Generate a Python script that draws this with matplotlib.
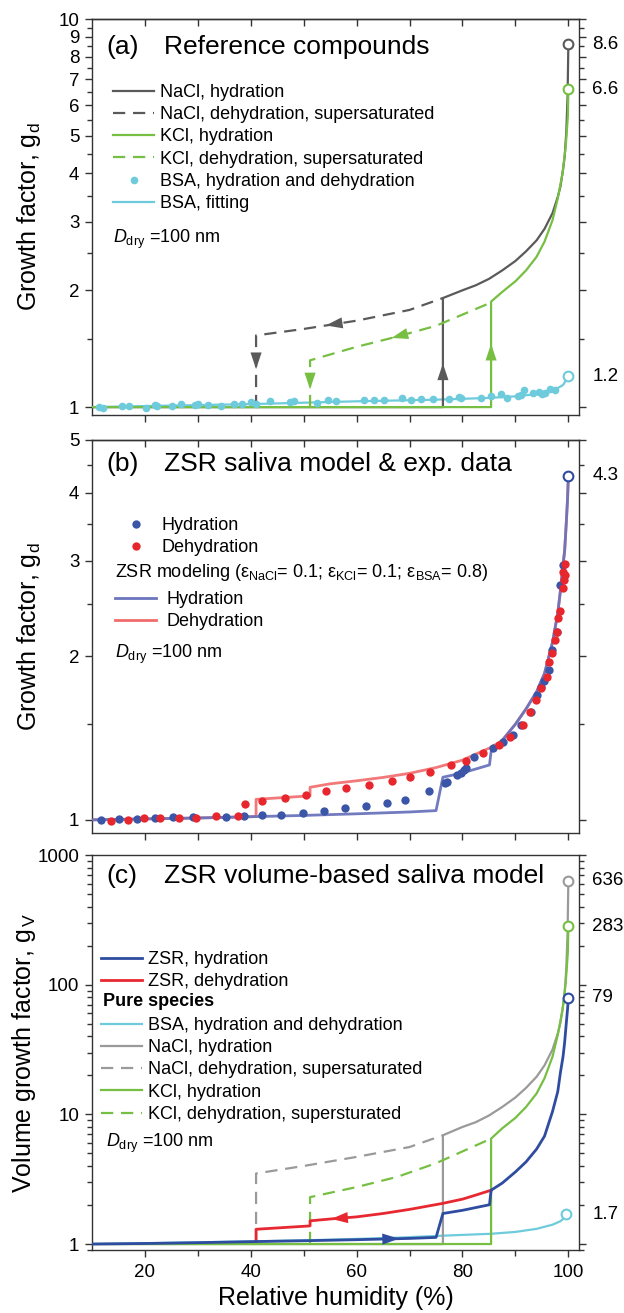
import numpy as np
import matplotlib.pyplot as plt
from matplotlib.lines import Line2D
from matplotlib.ticker import NullFormatter, LogLocator

plt.rcParams['font.family'] = ['Liberation Sans', 'DejaVu Sans']
plt.rcParams['mathtext.fontset'] = 'custom'
plt.rcParams['mathtext.rm'] = 'Liberation Sans'
plt.rcParams['mathtext.it'] = 'Liberation Sans:italic'
plt.rcParams['mathtext.bf'] = 'Liberation Sans:bold'
plt.rcParams['axes.linewidth'] = 1.0
plt.rcParams['axes.edgecolor'] = '#333333'

# ---------------- (a) reference compounds, diameter growth factor ----------------
rh_nacl_hyd = [10, 76.3, 76.3, 80, 82.5, 85, 87.5, 90, 92, 94, 95.5, 97, 98, 98.5, 99, 99.3, 99.6, 99.85, 100]
gd_nacl_hyd = [1.0, 1.0, 1.91, 2.00, 2.06, 2.14, 2.25, 2.38, 2.52, 2.69, 2.88, 3.16, 3.48, 3.70, 4.10, 4.42, 5.08, 6.3, 8.6]
rh_nacl_deh = [41.0, 41.0, 50, 60, 70, 76.3]
gd_nacl_deh = [1.0, 1.53, 1.59, 1.67, 1.78, 1.91]

rh_kcl_hyd = [10, 85.4, 85.4, 87.5, 90, 92, 94, 95.5, 97, 98, 98.9, 99.5, 99.9, 100]
gd_kcl_hyd = [1.0, 1.0, 1.87, 1.98, 2.11, 2.25, 2.44, 2.67, 3.03, 3.45, 4.0, 4.7, 5.6, 6.6]
rh_kcl_deh = [51.2, 51.2, 60, 67.7, 75, 85.4]
gd_kcl_deh = [1.0, 1.32, 1.43, 1.52, 1.62, 1.86]

rh_bsa_pts = [11.4, 12.1, 15.7, 17.0, 20.2, 21.9, 22.3, 25.1, 26.8, 29.4, 30.1, 32.0, 34.3,
              36.9, 38.4, 40.1, 41.0, 43.7, 47.4, 48.2, 52.5, 54.6, 56.1, 61.3, 63.2, 65.1,
              68.5, 70.3, 72.2, 74.5, 77.5, 79.4, 79.7, 83.5, 85.4, 87.2, 88.4, 90.5, 91.0,
              91.7, 93.3, 94.4, 95.0, 95.5, 96.6, 97.4]
gd_bsa_pts = [1.000, 0.996, 1.004, 1.006, 0.992, 1.012, 1.008, 1.004, 1.016, 1.012, 1.020, 1.014, 1.004,
              1.016, 1.020, 1.030, 1.020, 1.036, 1.030, 1.034, 1.026, 1.045, 1.036, 1.040, 1.045, 1.040,
              1.053, 1.045, 1.049, 1.049, 1.051, 1.061, 1.053, 1.057, 1.065, 1.082, 1.057, 1.065, 1.072,
              1.104, 1.087, 1.093, 1.082, 1.087, 1.115, 1.104]
rh_bsa_fit = [10, 20, 40, 60, 75, 85, 90, 94, 97, 99, 100]
gd_bsa_fit = [1.0, 1.006, 1.018, 1.035, 1.045, 1.056, 1.066, 1.080, 1.10, 1.14, 1.2]

# ---------------- (b) ZSR model and measured saliva ----------------
rh_zsr_hyd = [10, 20, 30, 41, 50, 60, 70, 75.0, 76.3, 80, 85.1, 85.4, 87.5, 90, 92, 94, 95.5,
              97, 98, 98.5, 99, 99.3, 99.6, 99.85, 100]
gd_zsr_hyd = [1.0, 1.004, 1.008, 1.014, 1.019, 1.026, 1.034, 1.040, 1.198, 1.22, 1.262, 1.335, 1.40,
              1.50, 1.60, 1.72, 1.86, 2.12, 2.40, 2.64, 2.95, 3.13, 3.51, 3.9, 4.3]
rh_zsr_deh = [10, 20, 30, 41.0, 41.0, 51.2, 51.2, 55, 60, 65, 70, 75, 80, 85.4, 87.5, 90, 92, 94,
              95.5, 97, 98, 98.5, 99, 99.3, 99.6, 99.85, 100]
gd_zsr_deh = [1.0, 1.004, 1.008, 1.014, 1.091, 1.107, 1.148, 1.165, 1.18, 1.197, 1.218, 1.248, 1.288,
              1.36, 1.40, 1.50, 1.60, 1.72, 1.86, 2.12, 2.40, 2.64, 2.95, 3.13, 3.51, 3.9, 4.3]

rh_exp_hyd = [11.7, 15.1, 18.5, 21.9, 25.4, 29.0, 35.3, 38.8, 42.2, 45.8, 49.8, 53.8, 57.8, 61.8,
              65.8, 69.2, 73.7, 76.7, 77.1, 79.0, 79.7, 80.3, 80.6, 82.1, 85.7, 87.6, 89.5, 91.0,
              92.9, 94.0, 94.8, 95.4, 96.3, 97.0, 97.8, 98.5, 98.9]
gd_exp_hyd = [1.000, 1.003, 1.004, 1.010, 1.014, 1.014, 1.014, 1.017, 1.021, 1.021, 1.031, 1.039,
              1.051, 1.061, 1.073, 1.088, 1.131, 1.168, 1.176, 1.210, 1.218, 1.236, 1.245, 1.307,
              1.354, 1.393, 1.433, 1.495, 1.582, 1.697, 1.758, 1.803, 1.887, 2.055, 2.22, 2.70, 2.94]
rh_exp_deh = [13.5, 16.8, 19.8, 22.9, 26.4, 29.6, 33.5, 37.5, 38.9, 42.2, 46.5, 50.4, 54.2, 57.9,
              62.3, 66.6, 70.1, 73.9, 77.9, 80.6, 83.9, 86.9, 89.0, 91.4, 92.7, 93.9, 94.9, 95.9,
              96.3, 97.0, 97.4, 97.8, 98.1, 98.5, 98.9, 99.1, 99.3, 99.4, 98.9]
gd_exp_deh = [0.997, 1.000, 1.007, 1.010, 1.010, 1.010, 1.017, 1.017, 1.069, 1.084, 1.096, 1.112,
              1.131, 1.144, 1.160, 1.181, 1.198, 1.223, 1.262, 1.285, 1.326, 1.374, 1.423, 1.495,
              1.582, 1.662, 1.746, 1.835, 1.95, 2.03, 2.14, 2.22, 2.35, 2.42, 2.67, 2.76, 2.82,
              2.96, 2.86]

# ---------------- (c) volume growth factor ----------------
rh_nacl_hyd_v = [10, 76.3, 76.3, 80, 82.5, 85, 87.5, 90, 92, 94, 95.5, 97, 98, 98.5, 99, 99.3, 99.6, 99.85, 100]
gv_nacl_hyd = [1.0, 1.0, 6.9, 8.0, 8.7, 9.8, 11.4, 13.5, 16.0, 19.5, 23.9, 31.6, 42, 50.7, 69, 86, 131, 250, 636]
rh_nacl_deh_v = [41.0, 41.0, 50, 60, 70, 76.3]
gv_nacl_deh = [1.0, 3.5, 4.0, 4.7, 5.6, 6.9]

rh_kcl_hyd_v = [10, 85.4, 85.4, 87.5, 90, 92, 94, 95.5, 97, 98, 98.9, 99.5, 99.9, 100]
gv_kcl_hyd = [1.0, 1.0, 6.5, 7.8, 9.4, 11.4, 14.5, 19.0, 27.8, 41, 64, 104, 176, 283]
rh_kcl_deh_v = [51.2, 51.2, 60, 67.7, 75, 85.4]
gv_kcl_deh = [1.0, 2.3, 2.75, 3.3, 4.2, 6.5]

rh_bsa_v = [10, 30, 41, 55, 67.7, 76.3, 85.4, 90, 94, 97, 98.5, 99.3, 99.6]
gv_bsa = [1.0, 1.03, 1.05, 1.08, 1.12, 1.16, 1.20, 1.24, 1.31, 1.41, 1.50, 1.60, 1.7]

rh_zsr_hyd_v = [10, 20, 30, 41, 50, 60, 70, 75.0, 76.3, 80, 85.1, 85.4, 87.5, 90, 92, 94, 95.5,
                97, 98, 98.5, 99, 99.3, 99.6, 99.85, 100]
gv_zsr_hyd = [1.0, 1.01, 1.025, 1.045, 1.06, 1.08, 1.105, 1.125, 1.72, 1.82, 2.01, 2.6, 2.95, 3.6,
              4.3, 5.4, 6.8, 10.5, 15, 21, 28, 36, 50, 65, 79]
rh_zsr_deh_v = [41.0, 41.0, 51.2, 51.2, 55, 60, 65, 70, 76.3, 80, 82, 85.4]
gv_zsr_deh = [1.045, 1.30, 1.38, 1.51, 1.56, 1.62, 1.72, 1.85, 2.06, 2.22, 2.35, 2.6]

c_nacl = '#5a5a5a'
c_nacl_v = '#9a9a9a'
c_kcl = '#76bf43'
c_bsa = '#6ecbdc'
c_zsr_hyd = '#6b74bd'
c_zsr_deh = '#f06b6b'
c_exp_hyd = '#3b55a7'
c_exp_deh = '#e8262d'
c_hyd_v = '#2e4ca0'
c_deh_v = '#e82830'

dash = (0, (5.5, 3.5))
lw = 1.6
fs = 13
fs_tick = 13.5
leg_kw = dict(loc='upper left', frameon=False, fontsize=fs, handlelength=2.3,
              labelspacing=0.29, borderpad=0, borderaxespad=0)


def arrow(ax, x0, y0, x1, y1, color):
    ax.annotate('', xy=(x1, y1), xytext=(x0, y0),
                arrowprops=dict(arrowstyle='-|>,head_length=0.6,head_width=0.2',
                                color=color, lw=0, shrinkA=0, shrinkB=0, mutation_scale=20),
                zorder=7)


def along(x, y, x_tail, x_tip, color, ax):
    # arrow head sitting on a curve, direction from x_tail to x_tip
    arrow(ax, x_tail, np.interp(x_tail, x, y), x_tip, np.interp(x_tip, x, y), color)


def on_jump(ax, x, lo, hi, f_tail, f_tip, color):
    # arrow head on a vertical jump, placed at log-fractions of the jump
    arrow(ax, x, lo * (hi / lo) ** f_tail, x, lo * (hi / lo) ** f_tip, color)


def end_label(ax, y, s):
    ax.annotate(s, xy=(1, y), xycoords=('axes fraction', 'data'), xytext=(9.5, 0),
                textcoords='offset points', va='center', ha='left', fontsize=fs_tick)


def end_circle(ax, x, y, color):
    ax.plot(x, y, 'o', ms=7, mfc='white', mec=color, mew=1.5, zorder=8, clip_on=False)


def frame(ax, top_ticks=True):
    ax.set_xlim(10, 102)
    ax.set_yscale('log')
    ax.tick_params(axis='y', which='both', direction='out', left=True, right=True,
                   labelright=False, labelsize=fs_tick, pad=4, color='#333333')
    ax.tick_params(axis='y', which='major', length=5, width=1)
    ax.tick_params(axis='y', which='minor', length=3.5, width=1)
    ax.tick_params(axis='x', which='both', direction='out', length=5, width=1,
                   labelsize=fs_tick, pad=5, color='#333333')
    if top_ticks:
        sec = ax.secondary_xaxis('top')
        sec.set_xticks(np.arange(20, 101, 10))
        sec.set_xticklabels([])
        sec.tick_params(direction='in', length=5, width=1, color='#333333')


fig = plt.figure(figsize=(6.24, 13.13), dpi=100)
left, width = 0.1474, 0.7804
ax_a = fig.add_axes([left, 0.6839, width, 0.3016])
ax_b = fig.add_axes([left, 0.3656, width, 0.2993])
ax_c = fig.add_axes([left, 0.0480, width, 0.3008])

# ---------- panel (a) ----------
ax = ax_a
frame(ax)
ax.plot(rh_bsa_fit, gd_bsa_fit, color=c_bsa, lw=lw, zorder=2)
ax.plot(rh_nacl_hyd, gd_nacl_hyd, color=c_nacl, lw=lw, zorder=3)
ax.plot(rh_nacl_deh, gd_nacl_deh, color=c_nacl, lw=lw, ls=dash, zorder=3)
ax.plot(rh_kcl_hyd, gd_kcl_hyd, color=c_kcl, lw=lw, zorder=3)
ax.plot(rh_kcl_deh, gd_kcl_deh, color=c_kcl, lw=lw, ls=dash, zorder=3)
ax.plot(rh_bsa_pts, gd_bsa_pts, 'o', color=c_bsa, ms=5.5, mew=0, zorder=4)
end_circle(ax, rh_nacl_hyd[-1], gd_nacl_hyd[-1], c_nacl)
end_circle(ax, rh_kcl_hyd[-1], gd_kcl_hyd[-1], c_kcl)
end_circle(ax, rh_bsa_fit[-1], gd_bsa_fit[-1], c_bsa)
end_label(ax, gd_nacl_hyd[-1], '8.6')
end_label(ax, gd_kcl_hyd[-1], '6.6')
end_label(ax, gd_bsa_fit[-1], '1.2')

on_jump(ax, rh_nacl_hyd[1], gd_nacl_hyd[1], gd_nacl_hyd[2], 0.22, 0.40, c_nacl)
on_jump(ax, rh_kcl_hyd[1], gd_kcl_hyd[1], gd_kcl_hyd[2], 0.42, 0.60, c_kcl)
on_jump(ax, rh_nacl_deh[0], gd_nacl_deh[0], gd_nacl_deh[1], 0.78, 0.53, c_nacl)
on_jump(ax, rh_kcl_deh[0], gd_kcl_deh[0], gd_kcl_deh[1], 0.80, 0.38, c_kcl)
along(rh_nacl_deh[1:], gd_nacl_deh[1:], 58.0, 54.2, c_nacl, ax)
along(rh_kcl_deh[1:], gd_kcl_deh[1:], 70.5, 66.6, c_kcl, ax)

ax.set_ylim(0.954, 10)
ax.set_yticks(np.arange(1, 11))
ax.set_yticklabels([str(v) for v in range(1, 11)])
ax.set_yticks(np.arange(1.5, 10, 1.0), minor=True)
ax.yaxis.set_minor_formatter(NullFormatter())
ax.set_xticks(np.arange(20, 101, 10))
ax.set_xticklabels([])
ax.set_ylabel('Growth factor, g$_\\mathrm{d}$', fontsize=18)
ax.yaxis.set_label_coords(-0.10, 0.5)

ax.text(0.029, 0.929, '(a)', transform=ax.transAxes, fontsize=19, va='center')
ax.text(0.148, 0.929, 'Reference compounds', transform=ax.transAxes, fontsize=19, va='center')

h_a = [Line2D([], [], color=c_nacl, lw=lw),
       Line2D([], [], color=c_nacl, lw=lw, ls=dash),
       Line2D([], [], color=c_kcl, lw=lw),
       Line2D([], [], color=c_kcl, lw=lw, ls=dash),
       Line2D([], [], color=c_bsa, marker='o', ls='none', ms=5.5, mew=0),
       Line2D([], [], color=c_bsa, lw=lw)]
l_a = ['NaCl, hydration', 'NaCl, dehydration, supersaturated', 'KCl, hydration',
       'KCl, dehydration, supersaturated', 'BSA, hydration and dehydration', 'BSA, fitting']
ax.legend(h_a, l_a, bbox_to_anchor=(0.043, 0.836), handletextpad=0.3, **leg_kw)
ax.text(0.043, 0.434, '$\\mathit{D}_{\\mathrm{dry}}$ =100 nm', transform=ax.transAxes,
        fontsize=fs, va='baseline')

# ---------- panel (b) ----------
ax = ax_b
frame(ax)
ax.plot(rh_zsr_deh, gd_zsr_deh, color=c_zsr_deh, lw=2.0, alpha=0.9, zorder=2)
ax.plot(rh_zsr_hyd, gd_zsr_hyd, color=c_zsr_hyd, lw=2.0, alpha=0.95, zorder=3)
ax.plot(rh_exp_hyd, gd_exp_hyd, 'o', color=c_exp_hyd, ms=6, mew=0, zorder=4)
ax.plot(rh_exp_deh, gd_exp_deh, 'o', color=c_exp_deh, ms=6, mew=0, zorder=5)
end_circle(ax, rh_zsr_hyd[-1], gd_zsr_hyd[-1], c_hyd_v)
end_label(ax, gd_zsr_hyd[-1], '4.3')

ax.set_ylim(0.946, 5)
ax.set_yticks([1, 2, 3, 4, 5])
ax.set_yticklabels(['1', '2', '3', '4', '5'])
ax.set_yticks([1.5, 2.5, 3.5, 4.5], minor=True)
ax.yaxis.set_minor_formatter(NullFormatter())
ax.set_xticks(np.arange(20, 101, 10))
ax.set_xticklabels([])
ax.set_ylabel('Growth factor, g$_\\mathrm{d}$', fontsize=18)
ax.yaxis.set_label_coords(-0.10, 0.5)

ax.text(0.029, 0.939, '(b)', transform=ax.transAxes, fontsize=19, va='center')
ax.text(0.148, 0.939, 'ZSR saliva model & exp. data', transform=ax.transAxes, fontsize=19, va='center')

h_b1 = [Line2D([], [], color=c_exp_hyd, marker='o', ls='none', ms=6, mew=0),
        Line2D([], [], color=c_exp_deh, marker='o', ls='none', ms=6, mew=0)]
leg_b = ax.legend(h_b1, ['Hydration', 'Dehydration'], bbox_to_anchor=(0.047, 0.804),
                  handletextpad=0.3, **leg_kw)
ax.add_artist(leg_b)
ax.text(0.047, 0.651,
        'ZSR modeling (ε$_\\mathrm{NaCl}$= 0.1; ε$_\\mathrm{KCl}$= 0.1; ε$_\\mathrm{BSA}$= 0.8)',
        transform=ax.transAxes, fontsize=fs, va='baseline')
h_b2 = [Line2D([], [], color=c_zsr_hyd, lw=2.0), Line2D([], [], color=c_zsr_deh, lw=2.0)]
ax.legend(h_b2, ['Hydration', 'Dehydration'], bbox_to_anchor=(0.047, 0.616),
          handletextpad=0.55, **leg_kw)
ax.text(0.047, 0.445, '$\\mathit{D}_{\\mathrm{dry}}$ =100 nm', transform=ax.transAxes,
        fontsize=fs, va='baseline')

# ---------- panel (c) ----------
ax = ax_c
frame(ax, top_ticks=False)
ax.plot(rh_bsa_v, gv_bsa, color=c_bsa, lw=lw, zorder=2)
ax.plot(rh_nacl_hyd_v, gv_nacl_hyd, color=c_nacl_v, lw=lw, zorder=2)
ax.plot(rh_nacl_deh_v, gv_nacl_deh, color=c_nacl_v, lw=lw, ls=dash, zorder=2)
ax.plot(rh_kcl_hyd_v, gv_kcl_hyd, color=c_kcl, lw=lw, zorder=3)
ax.plot(rh_kcl_deh_v, gv_kcl_deh, color=c_kcl, lw=lw, ls=dash, zorder=3)
ax.plot(rh_zsr_deh_v, gv_zsr_deh, color=c_deh_v, lw=2.0, zorder=4)
ax.plot(rh_zsr_hyd_v, gv_zsr_hyd, color=c_hyd_v, lw=2.0, zorder=5)
along(rh_zsr_deh_v[3:], gv_zsr_deh[3:], 59.0, 55.2, c_deh_v, ax)
along(rh_zsr_hyd_v, gv_zsr_hyd, 64.0, 68.0, c_hyd_v, ax)

end_circle(ax, rh_nacl_hyd_v[-1], gv_nacl_hyd[-1], c_nacl_v)
end_circle(ax, rh_kcl_hyd_v[-1], gv_kcl_hyd[-1], c_kcl)
end_circle(ax, rh_zsr_hyd_v[-1], gv_zsr_hyd[-1], c_hyd_v)
end_circle(ax, rh_bsa_v[-1], gv_bsa[-1], c_bsa)
end_label(ax, gv_nacl_hyd[-1], '636')
end_label(ax, gv_kcl_hyd[-1], '283')
end_label(ax, gv_zsr_hyd[-1], '79')
end_label(ax, gv_bsa[-1], '1.7')

ax.set_ylim(0.9, 1000)
ax.set_yticks([1, 10, 100, 1000])
ax.set_yticklabels(['1', '10', '100', '1000'])
ax.yaxis.set_minor_locator(LogLocator(base=10, subs=np.arange(2, 10)))
ax.yaxis.set_minor_formatter(NullFormatter())
ax.set_xticks(np.arange(20, 101, 20))
ax.set_xticks(np.arange(30, 100, 20), minor=True)
ax.tick_params(axis='x', which='minor', length=4)
ax.set_xlabel('Relative humidity (%)', fontsize=18, labelpad=4)
ax.set_ylabel('Volume growth factor, g$_{\\,\\mathrm{V}}$', fontsize=18)
ax.yaxis.set_label_coords(-0.111, 0.5)

ax.text(0.029, 0.947, '(c)', transform=ax.transAxes, fontsize=19, va='center')
ax.text(0.148, 0.947, 'ZSR volume-based saliva model', transform=ax.transAxes, fontsize=19, va='center')

h_c1 = [Line2D([], [], color=c_hyd_v, lw=2.0), Line2D([], [], color=c_deh_v, lw=2.0)]
leg_c = ax.legend(h_c1, ['ZSR, hydration', 'ZSR, dehydration'], bbox_to_anchor=(0.018, 0.757),
                  handletextpad=0.3, **leg_kw)
ax.add_artist(leg_c)
ax.text(0.022, 0.618, 'Pure species', transform=ax.transAxes, fontsize=fs,
        fontweight='bold', va='baseline')
h_c2 = [Line2D([], [], color=c_bsa, lw=lw),
        Line2D([], [], color=c_nacl_v, lw=lw),
        Line2D([], [], color=c_nacl_v, lw=lw, ls=dash),
        Line2D([], [], color=c_kcl, lw=lw),
        Line2D([], [], color=c_kcl, lw=lw, ls=dash)]
l_c2 = ['BSA, hydration and dehydration', 'NaCl, hydration', 'NaCl, dehydration, supersaturated',
        'KCl, hydration', 'KCl, dehydration, supersturated']
ax.legend(h_c2, l_c2, bbox_to_anchor=(0.018, 0.590), handletextpad=0.3, **leg_kw)
ax.text(0.029, 0.261, '$\\mathit{D}_{\\mathrm{dry}}$ =100 nm', transform=ax.transAxes,
        fontsize=fs, va='baseline')

fig.savefig('out.png', dpi=100)
